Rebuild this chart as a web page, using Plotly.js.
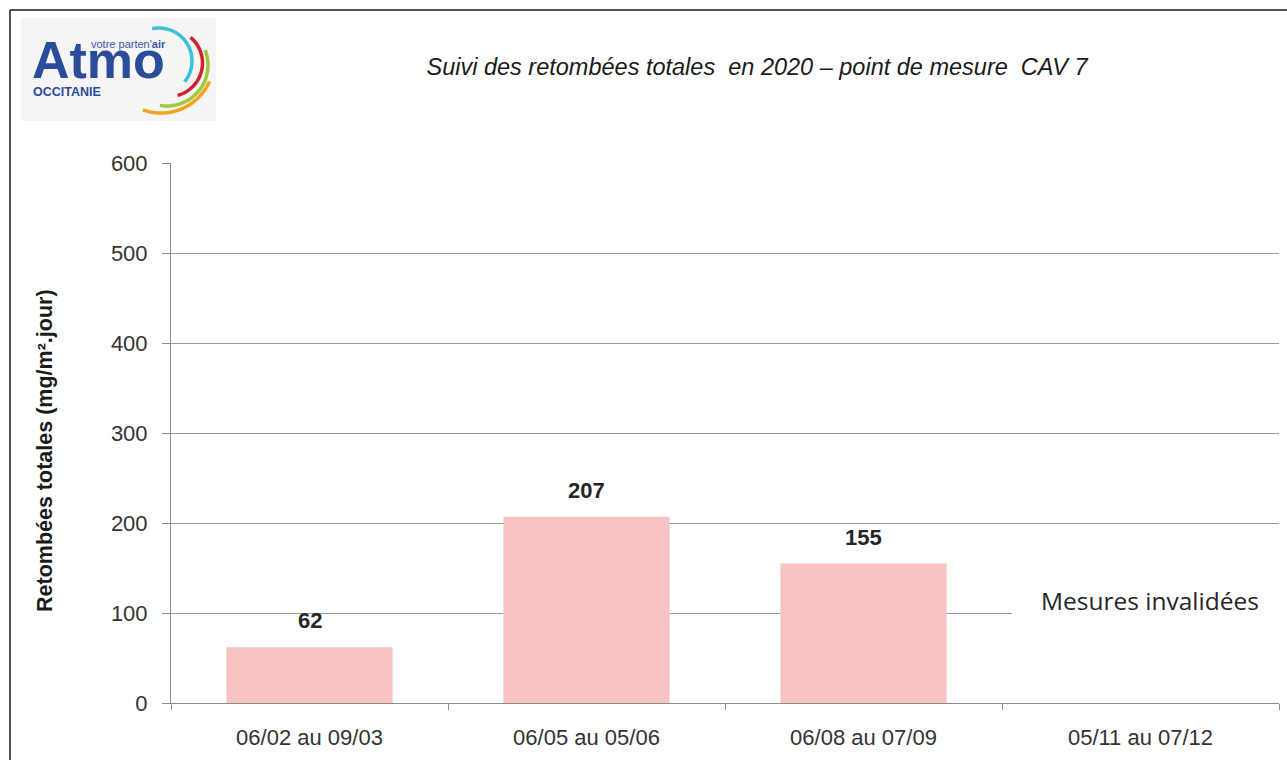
<!DOCTYPE html>
<html>
<head>
<meta charset="utf-8">
<script src="https://cdn.plot.ly/plotly-3.0.1.min.js"></script>
<style>html,body{margin:0;padding:0;background:#fff;}#chart{width:1287px;height:760px;}</style>
</head>
<body>
<div id="chart"></div>
<script>
// ---- data ----
const periods = ["06/02 au 09/03", "06/05 au 05/06", "06/08 au 07/09", "05/11 au 07/12"];
const retombees = [62, 207, 155, null];
const valueLabels = ["62", "207", "155", ""];
const yTicks = [0, 100, 200, 300, 400, 500, 600];
const chartTitle = "Suivi des retombées totales  en 2020 – point de mesure  CAV 7";
const yTitle = "Retombées totales (mg/m².jour)";
const invalidNote = "Mesures invalidées";

// ---- geometry helpers (pixel -> paper) ----
const L = 171, R = 1279, T = 163, B = 703;
const px = v => (v - L) / (R - L);
const py = v => (B - v) / (B - T);

function arcPath(cx, cy, r, a0, a1) {
  let d = "";
  const n = 30;
  for (let i = 0; i <= n; i++) {
    const a = (a0 + (a1 - a0) * i / n) * Math.PI / 180;
    const x = px(cx + r * Math.cos(a)), y = py(cy + r * Math.sin(a));
    d += (i === 0 ? "M" : "L") + x.toFixed(5) + "," + y.toFixed(5);
  }
  return d;
}

const fontMain = "'Liberation Sans', Arial, sans-serif";

const trace = {
  type: "bar",
  x: periods,
  y: retombees,
  marker: { color: "#f7c4c3" },
  width: 0.6,
  hoverinfo: "x+y"
};

const shapes = [
  // frame
  { type: "line", xref: "paper", yref: "paper", x0: px(10), x1: px(10), y0: py(10), y1: py(770), line: { color: "#1a1a1a", width: 1.5 } },
  { type: "line", xref: "paper", yref: "paper", x0: px(10), x1: px(1300), y0: py(10), y1: py(10), line: { color: "#1a1a1a", width: 1.5 } },
  // logo background
  { type: "rect", xref: "paper", yref: "paper", x0: px(21), x1: px(216), y0: py(18), y1: py(121), fillcolor: "#f5f5f5", line: { width: 0 }, layer: "below" },
  // logo arcs
  { type: "path", xref: "paper", yref: "paper", path: arcPath(159, 61, 33, -102, 39), line: { color: "#3cc0db", width: 3.5 } },
  { type: "path", xref: "paper", yref: "paper", path: arcPath(169, 63, 33.5, -50, 75), line: { color: "#d2232a", width: 3.5 } },
  { type: "path", xref: "paper", yref: "paper", path: arcPath(167, 65, 41, -21, 100), line: { color: "#9cc93b", width: 3.5 } },
  { type: "path", xref: "paper", yref: "paper", path: arcPath(161, 60, 53, 24, 110), line: { color: "#f4a21c", width: 3.5 } },
  // white box behind note
  { type: "rect", xref: "paper", yref: "paper", x0: px(1012), x1: px(1284), y0: py(628), y1: py(575), fillcolor: "#ffffff", line: { width: 0 }, layer: "above" }
];

const annotations = [
  // logo text
  { xref: "paper", yref: "paper", x: px(30), y: py(91), xanchor: "left", yanchor: "bottom", text: "<b>Atmo</b>", showarrow: false,
    font: { family: fontMain, size: 52, color: "#2b4b9b" } },
  { xref: "paper", yref: "paper", x: px(89), y: py(44), xanchor: "left", yanchor: "middle", text: "votre parten'<b>air</b>", showarrow: false,
    font: { family: fontMain, size: 11, color: "#3a58a6" } },
  { xref: "paper", yref: "paper", x: px(31), y: py(92), xanchor: "left", yanchor: "middle", text: "<b>OCCITANIE</b>", showarrow: false,
    font: { family: fontMain, size: 12.5, color: "#2b4b9b" } },
  // y title
  { xref: "paper", yref: "paper", x: px(45), y: py(451), xanchor: "center", yanchor: "middle", textangle: -90, text: "<b>" + yTitle + "</b>", showarrow: false,
    font: { family: fontMain, size: 21.5, color: "#1a1a1a" } },
  // note
  { xref: "paper", yref: "paper", x: px(1150), y: py(600), xanchor: "center", yanchor: "middle", text: invalidNote, showarrow: false,
    font: { family: "'Open Sans', 'Noto Sans', sans-serif", size: 24.5, color: "#262626" } }
];

periods.forEach((p, i) => {
  if (retombees[i] !== null) {
    annotations.push({ x: p, y: retombees[i], xref: "x", yref: "y", yanchor: "bottom", yshift: 12, text: "<b>" + valueLabels[i] + "</b>", showarrow: false,
      font: { family: fontMain, size: 22, color: "#262626" } });
  }
});

const layout = {
  width: 1287, height: 760,
  margin: { l: L, r: 1287 - R, t: T, b: 760 - B, pad: 0 },
  paper_bgcolor: "#ffffff", plot_bgcolor: "#ffffff",
  showlegend: false,
  title: { text: "<i>" + chartTitle + "</i>", x: 757 / 1287, xanchor: "center", y: 1 - 67 / 760, yanchor: "middle", xref: "container", yref: "container",
    font: { family: fontMain, size: 23.5, color: "#1a1a1a" } },
  xaxis: {
    type: "category", range: [-0.5, 3.5], fixedrange: true,
    showline: true, linecolor: "#8c8c8c", linewidth: 1,
    ticks: "outside", tickson: "boundaries", ticklen: 6, tickcolor: "#8c8c8c",
    showgrid: false, ticklabelstandoff: 15,
    tickfont: { family: fontMain, size: 22, color: "#333333" }
  },
  yaxis: {
    range: [0, 600], tickvals: yTicks, ticktext: yTicks.map(String), fixedrange: true,
    showline: true, linecolor: "#8c8c8c", linewidth: 1,
    ticks: "outside", ticklen: 8, tickcolor: "#8c8c8c",
    showgrid: true, gridcolor: "#9a9a9a", gridwidth: 1, zeroline: false,
    ticklabelstandoff: 10,
    tickfont: { family: fontMain, size: 22, color: "#333333" }
  },
  shapes: shapes,
  annotations: annotations,
  bargap: 0.4
};

Plotly.newPlot("chart", [trace], layout, { displayModeBar: false, staticPlot: true });
</script>
</body>
</html>
